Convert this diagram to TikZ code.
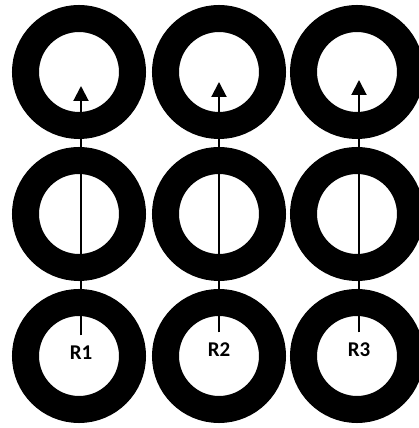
\documentclass[tikz,border=0pt]{standalone}
\usepackage{fontspec}
\setmainfont{Carlito}
\usetikzlibrary{arrows.meta,positioning}
\tikzset{
  ring/.style={draw, circle, line width=27pt, minimum size=107pt, inner sep=0pt},
  rlabel/.style={font=\fontsize{21}{21}\selectfont\bfseries, inner xsep=2pt, inner ysep=10.5pt},
  probe/.style={-{Triangle[length=15pt,width=15pt]}, line width=2pt}
}
\begin{document}
\begin{tikzpicture}[x=1pt,y=1pt]
  \useasboundingbox (0,0) rectangle (419,428);
  % 3x3 grid of rings
  \foreach \c/\x in {1/79,2/219,3/357}{
    \foreach \r/\y in {1/356,2/214,3/72}{
      \node[ring] (ring\r\c) at (\x,\y) {};
    }
  }
  % labels with their arrows
  \foreach \i/\x/\ly/\ty in {1/81/75/342, 2/219/78/346, 3/359/78/348}{
    \node[rlabel] (r\i) at (\x,\ly) {R\i};
    \coordinate (tip\i) at (\x,\ty);
    \draw[probe] (r\i) -- (tip\i);
  }
\end{tikzpicture}
\end{document}
